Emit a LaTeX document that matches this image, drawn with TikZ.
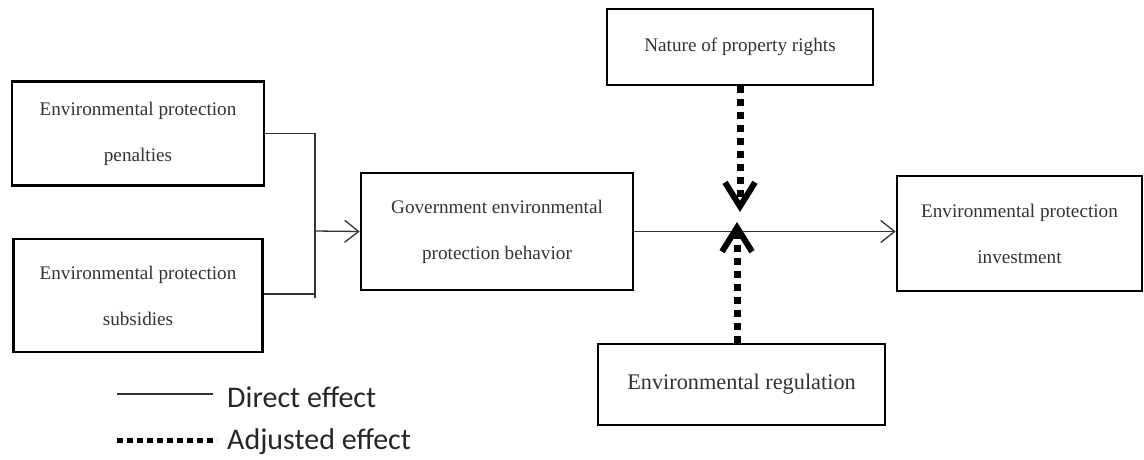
\documentclass[tikz,border=0pt]{standalone}
\usepackage{fontspec}
\setmainfont{Liberation Serif}
\newfontfamily\legfont{Carlito}
\usetikzlibrary{arrows.meta}
\begin{document}
\begin{tikzpicture}[x=1pt,y=-1pt,
	box/.style={draw,line width=2.6pt,align=center,inner sep=0pt,
		font=\fontsize{19.2}{46}\selectfont,text=black!80},
	direct/.style={line width=1.3pt,draw=black!80},
	adj/.style={line width=7pt,dash pattern=on 6.5pt off 6.5pt},
	leg/.style={anchor=west,inner sep=0pt,font=\legfont\fontsize{30}{31}\selectfont,text=black!85}]
\useasboundingbox (0,0) rectangle (1144,459);
\node[box,minimum width=252pt,minimum height=104pt] (pen) at (138,133.5)
	{Environmental protection\\penalties};
\node[box,minimum width=249pt,minimum height=113pt] (sub) at (138,295.5)
	{Environmental protection\\subsidies};
\node[box,minimum width=272pt,minimum height=117pt] (gov) at (497,231.5)
	{Government environmental\\protection behavior};
\node[box,minimum width=245pt,minimum height=115pt] (inv) at (1019.5,233.5)
	{Environmental protection\\investment};
\node[box,minimum width=266pt,minimum height=76pt] (nat) at (740,47)
	{Nature of property rights};
\node[box,minimum width=287pt,minimum height=81pt,
	font=\fontsize{22.3}{24}\selectfont] (reg) at (741.5,384.5)
	{Environmental regulation};
% direct paths
\coordinate (jn) at (315,231);
\draw[direct] (pen.east) -| (315,298);
\draw[direct] (sub.east |- 0,294) -- (315,294);
\draw[direct,-{Straight Barb[length=14pt,width=22pt,line width=1.3pt]}] (jn) -- (gov.west);
\draw[direct,-{Straight Barb[length=14pt,width=22pt,line width=1.3pt]}] (gov.east) -- (gov.east -| inv.west);
% moderating effects
\coordinate (tipT) at (740,212);
\coordinate (tipB) at (737,222);
\draw[adj,-{Straight Barb[length=24pt,width=30pt,line width=6pt]}] (tipT |- nat.south) -- (tipT);
\draw[adj,-{Straight Barb[length=24pt,width=30pt,line width=6pt]}] (tipB |- reg.north) -- (tipB);
% legend
\node[leg] (ld) at (227,397) {Direct effect};
\node[leg] (la) at (227,442) {Adjusted effect};
\draw[line width=1.3pt,draw=black!80] (117,394) -- ([xshift=-14pt]ld.west |- 0,394);
\draw[line width=5pt,dash pattern=on 5.7pt off 4.3pt] (117,440) -- ([xshift=-10pt]la.west |- 0,440);
\end{tikzpicture}
\end{document}
